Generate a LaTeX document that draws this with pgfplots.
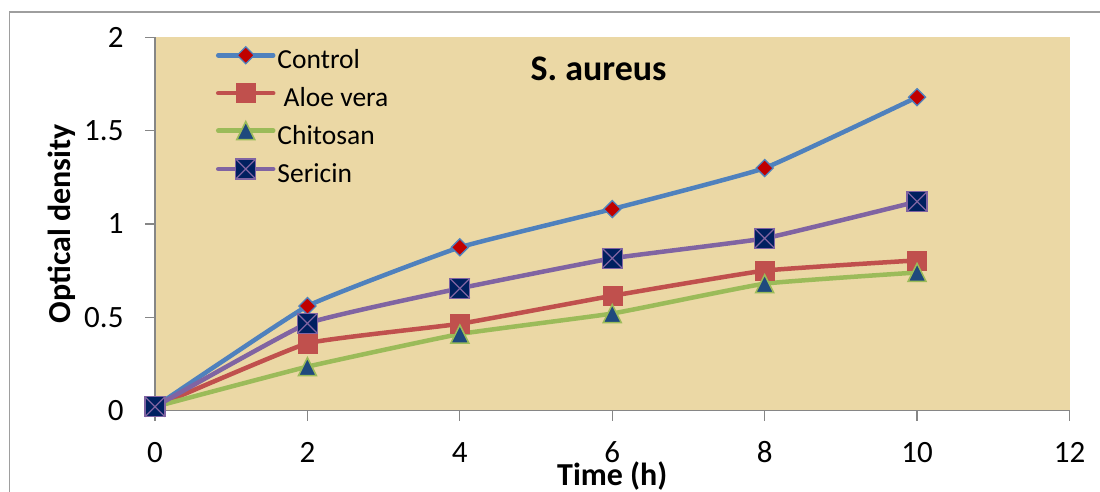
\documentclass[border=0pt]{standalone}
\usepackage{fontspec}
\setmainfont{Carlito}
\usepackage{pgfplots}
\pgfplotsset{compat=1.18}

\definecolor{bgc}{RGB}{235,216,165}
\definecolor{cblue}{RGB}{79,129,189}
\definecolor{cred}{RGB}{192,80,77}
\definecolor{cgreen}{RGB}{155,187,89}
\definecolor{cpurple}{RGB}{128,100,162}
\definecolor{dred}{RGB}{192,0,0}
\definecolor{dblue}{RGB}{31,73,125}
\definecolor{navy}{RGB}{0,32,96}
\definecolor{axgray}{RGB}{134,134,134}

\pgfdeclareplotmark{dia}{%
  \pgfpathmoveto{\pgfqpoint{0pt}{\pgfplotmarksize}}%
  \pgfpathlineto{\pgfqpoint{\pgfplotmarksize}{0pt}}%
  \pgfpathlineto{\pgfqpoint{0pt}{-\pgfplotmarksize}}%
  \pgfpathlineto{\pgfqpoint{-\pgfplotmarksize}{0pt}}%
  \pgfpathclose\pgfusepathqfillstroke}
\pgfdeclareplotmark{tri}{%
  \pgfpathmoveto{\pgfqpoint{0pt}{\pgfplotmarksize}}%
  \pgfpathlineto{\pgfqpoint{\pgfplotmarksize}{-\pgfplotmarksize}}%
  \pgfpathlineto{\pgfqpoint{-\pgfplotmarksize}{-\pgfplotmarksize}}%
  \pgfpathclose\pgfusepathqfillstroke}
\pgfdeclareplotmark{boxx}{%
  \pgfpathrectangle{\pgfqpoint{-\pgfplotmarksize}{-\pgfplotmarksize}}{\pgfqpoint{2\pgfplotmarksize}{2\pgfplotmarksize}}%
  \pgfusepathqfillstroke
  \pgfpathmoveto{\pgfqpoint{-\pgfplotmarksize}{-\pgfplotmarksize}}%
  \pgfpathlineto{\pgfqpoint{\pgfplotmarksize}{\pgfplotmarksize}}%
  \pgfpathmoveto{\pgfqpoint{-\pgfplotmarksize}{\pgfplotmarksize}}%
  \pgfpathlineto{\pgfqpoint{\pgfplotmarksize}{-\pgfplotmarksize}}%
  \pgfusepathqstroke}

\begin{document}
\begin{tikzpicture}
\useasboundingbox (0,0) rectangle (1100bp,492bp);
\draw[axgray!80, line width=1.5bp] (9.5bp,-10bp) -- (9.5bp,480bp) -- (1110bp,480bp);
\begin{axis}[
  at={(155bp,81.5bp)}, anchor=south west,
  scale only axis, width=914.5bp, height=373bp,
  xmin=0, xmax=12, ymin=0, ymax=2,
  xtick={0,2,...,12}, ytick={0,0.5,1,1.5,2},
  axis x line*=bottom, axis y line*=left,
  axis line style={-, axgray, line width=1.3bp},
  tick style={axgray, line width=1.3bp},
  tick align=outside, major tick length=10bp,
  axis background/.style={fill=bgc},
  clip=false,
  /pgf/number format/assume math mode=true,
  ticklabel style={font=\fontsize{31bp}{36bp}\selectfont},
  xticklabel style={anchor=base, yshift=-42bp},
  yticklabel style={anchor=east, xshift=-18bp},
  xlabel={Time (h)}, ylabel={Optical density},
  every axis x label/.style={at={(axis description cs:0.5,0)}, anchor=base, yshift=-74.5bp, font=\bfseries\fontsize{32bp}{36bp}\selectfont},
  every axis y label/.style={at={(axis description cs:-0.1017,0.5)}, anchor=center, rotate=90, font=\bfseries\fontsize{32bp}{36bp}\selectfont},
  title={S. aureus},
  title style={at={(axis description cs:0.485,0.868)}, anchor=base, font=\bfseries\fontsize{36bp}{40bp}\selectfont},
  legend cell align=left,
  legend image code/.code={%
    \draw[mark repeat=2, mark phase=2, line cap=round, #1] plot coordinates {(0bp,7.5bp)(27.5bp,7.5bp)(55bp,7.5bp)};},
  legend style={draw=none, fill=none, inner sep=0pt, outer sep=0pt,
    at={(axis description cs:0.0667,0.975)}, anchor=north west,
    row sep=8.9bp, column sep=2bp,
    nodes={inner sep=0pt, text height=18bp, text depth=6bp},
    font=\fontsize{27.5bp}{30bp}\selectfont},
  every axis plot/.append style={line width=4.5bp, smooth, tension=0.2},
]
\addplot[color=cblue, mark=dia, mark size=8.5bp, mark options={fill=dred, draw=cblue, line width=1.3bp}]
  coordinates {(0,0.02)(2,0.56)(4,0.875)(6,1.08)(8,1.30)(10,1.68)};
\addlegendentry{Control}
\addplot[color=cred, mark=square*, mark size=9.5bp, mark options={fill=cred, draw=cred, line width=0.5bp}]
  coordinates {(0,0.02)(2,0.36)(4,0.465)(6,0.615)(8,0.75)(10,0.805)};
\addlegendentry{\ Aloe vera}
\addplot[color=cgreen, mark=tri, mark size=9bp, mark options={fill=dblue, draw=cgreen, line width=1.5bp}]
  coordinates {(0,0.02)(2,0.235)(4,0.41)(6,0.52)(8,0.68)(10,0.74)};
\addlegendentry{Chitosan}
\addplot[color=cpurple, mark=boxx, mark size=10bp, mark options={fill=navy, draw=cpurple, line width=1.3bp}]
  coordinates {(0,0.02)(2,0.467)(4,0.655)(6,0.816)(8,0.923)(10,1.12)};
\addlegendentry{Sericin}
\end{axis}
\end{tikzpicture}
\end{document}
